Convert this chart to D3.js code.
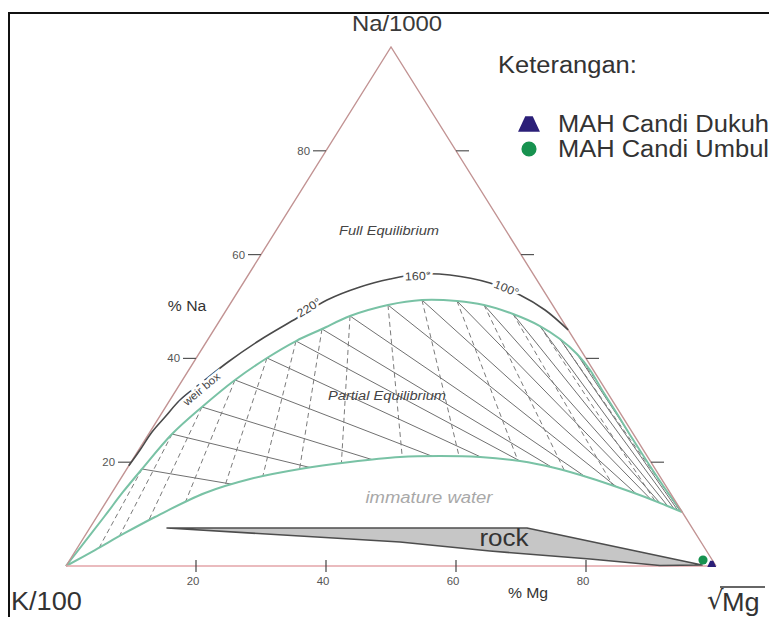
<!DOCTYPE html>
<html><head><meta charset="utf-8">
<script src="https://cdn.jsdelivr.net/npm/d3@7"></script>
<style>body{margin:0;background:#fff}svg{display:block;font-family:"Liberation Sans",Arial,sans-serif}</style>
</head><body>
<svg id="c" width="769" height="617"></svg>
<script>
// ---------- DATA (ternary: %Na , %Mg ; %K = 100 - Na - Mg) ----------
const fullEqNa = [0, 9.44, 14.26, 18.69, 25.43, 30.64, 35.84, 40.08, 43.35, 45.66, 48.17, 50.29, 51.25, 51.06, 50.29, 48.55, 46.24, 43.74, 40.85, 37.76, 33.91, 29.67, 24.66, 19.27, 14.64, 10.40];
const fullEqMg = [0, 1.13, 1.64, 2.35, 3.60, 5.60, 8.08, 10.88, 13.71, 16.55, 19.61, 24.39, 29.14, 34.62, 39.16, 44.50, 49.80, 54.13, 58.19, 61.74, 65.51, 69.78, 74.75, 80.21, 84.99, 89.57];

const immatureNa = [0, 3.08, 6.36, 9.44, 14.07, 16.76, 18.69, 20.04, 21.00, 21.19, 21.00, 20.23, 18.88, 16.96, 15.03, 13.29, 11.75, 10.40];
const immatureMg = [0, 2.92, 5.90, 8.97, 14.35, 19.93, 26.65, 33.67, 40.88, 46.94, 53.19, 59.73, 65.79, 72.14, 77.71, 82.43, 86.28, 89.57];

// isotherm tie points on the full-equilibrium line
const isoTemps = [340, 320, 300, 280, 260, 240, 220, 200, 180, 160, 140, 120, 100, 80, 60, 40];
const isoNa = [18.69, 25.43, 30.64, 35.84, 40.08, 43.35, 45.66, 48.17, 50.29, 51.25, 51.06, 50.29, 48.55, 46.24, 43.74, 40.85];
const isoMg = [2.35, 3.60, 5.60, 8.08, 10.88, 13.71, 16.55, 19.61, 24.39, 29.14, 34.62, 39.16, 44.50, 49.80, 54.13, 58.19];
const labelledTemps = [220, 160, 100];

// weir box temperature arc
const arcNa = [19.3, 22.35, 25.82, 28.71, 31.98, 35.07, 39.31, 43.55, 47.78, 51.25, 53.76, 55.30, 56.26, 56.07, 54.53, 52.22, 49.33, 45.5];
const arcMg = [0.0, 0.21, 0.32, 0.88, 1.55, 3.08, 5.27, 8.08, 11.65, 14.53, 18.35, 22.20, 26.33, 31.04, 37.96, 43.74, 49.03, 54.5];

// rock dissolution field
const rockNa = [7.32, 7.32, 0.19, 0.10, 1.35, 2.89, 4.62];
const rockMg = [11.88, 67.26, 97.75, 91.33, 79.94, 63.78, 49.07];

// samples
const sampleNames = ["MAH Candi Dukuh", "MAH Candi Umbul"];
const sampleNa = [0.39, 1.16];
const sampleMg = [99.15, 97.42];

const axisTicks = [20, 40, 60, 80];

// ---------- LAYOUT ----------
const svg = d3.select("#c");
const sx = d3.scaleLinear().domain([0, 100]).range([66, 716]);
const sy = d3.scaleLinear().domain([0, 100]).range([566, 47]);
const px = (na, mg) => [sx(mg + na / 2), sy(na)];
const STRETCH = 1.085;
const dashFocus = px(97.5, -2.75);   // convergence of K-Mg isotherms in the drawing

svg.append("rect").attr("width", 769).attr("height", 617).attr("fill", "#fff");
svg.append("rect").attr("x", 9).attr("y", 13).attr("width", 800).attr("height", 700)
  .attr("fill", "none").attr("stroke", "#111").attr("stroke-width", 2);

function txt(x, y, s, o = {}) {
  return svg.append("text")
    .attr("transform", `translate(${x},${y}) rotate(${o.rot || 0}) scale(${STRETCH},1)`)
    .attr("text-anchor", o.anchor || "start")
    .attr("font-size", o.size || 12)
    .attr("font-style", o.italic ? "italic" : "normal")
    .attr("fill", o.fill || "#333")
    .text(s);
}

const line = d3.line().curve(d3.curveCatmullRom.alpha(0.5));
const upPts = fullEqNa.map((na, i) => px(na, fullEqMg[i]));
const loPts = immatureNa.map((na, i) => px(na, immatureMg[i]));
const dUp = line(upPts), dLo = line(loPts);
const dLoRev = line(loPts.slice().reverse());

svg.append("clipPath").attr("id", "pe").append("path").attr("d", dUp + "L" + dLoRev.slice(1) + "Z");

// isotherms
const iso = svg.append("g").attr("clip-path", "url(#pe)");
const mgVertex = px(0, 100);
isoTemps.forEach((t, i) => {
  const [x, y] = px(isoNa[i], isoMg[i]);
  iso.append("line").attr("x1", x).attr("y1", y).attr("x2", mgVertex[0]).attr("y2", mgVertex[1])
    .attr("stroke", "#707070").attr("stroke-width", 1);
  const fx = x + 3 * (x - dashFocus[0]), fy = y + 3 * (y - dashFocus[1]);
  iso.append("line").attr("x1", x).attr("y1", y).attr("x2", fx).attr("y2", fy)
    .attr("stroke", "#7a7a7a").attr("stroke-width", 1).attr("stroke-dasharray", "5,3.5");
});

// curves
svg.append("path").attr("d", dLo).attr("fill", "none").attr("stroke", "#79c2a5").attr("stroke-width", 2);
svg.append("path").attr("d", dUp).attr("fill", "none").attr("stroke", "#79c2a5").attr("stroke-width", 2);

// triangle
const K = px(0, 0), N = px(100, 0), M = px(0, 100);
svg.append("path").attr("d", `M${K}L${N}L${M}`).attr("fill", "none").attr("stroke", "#c29393").attr("stroke-width", 1.4);
svg.append("path").attr("d", `M${K}L${M}`).attr("fill", "none").attr("stroke", "#e3a5a8").attr("stroke-width", 1.6);

// ticks
axisTicks.forEach(v => {
  const [lx, ly] = px(v, 0);
  svg.append("line").attr("x1", lx - 13).attr("x2", lx).attr("y1", ly).attr("y2", ly).attr("stroke", "#555").attr("stroke-width", 1.2);
  txt(lx - 16, ly + 4, String(v), { anchor: "end", size: 10.5, fill: "#555" });
  const [rx, ry] = px(v, 100 - v);
  svg.append("line").attr("x1", rx).attr("x2", rx + 13).attr("y1", ry).attr("y2", ry).attr("stroke", "#555").attr("stroke-width", 1.2);
  const [bx, by] = px(0, v);
  svg.append("line").attr("x1", bx).attr("x2", bx).attr("y1", by - 6).attr("y2", by + 6).attr("stroke", "#444").attr("stroke-width", 1.2);
  txt(bx - 3, by + 19, String(v), { anchor: "middle", size: 10.5, fill: "#555" });
});

// weir box arc
const arcPts = arcNa.map((na, i) => px(na, arcMg[i]));
svg.append("path").attr("d", line(arcPts)).attr("fill", "none").attr("stroke", "#4a4a4a").attr("stroke-width", 1.6);
function halo(t) { t.attr("stroke", "#fff").attr("stroke-width", 5).attr("paint-order", "stroke"); return t; }
const wb = px(34.3, 4.08);
halo(txt(wb[0], wb[1] + 4, "weir box", { anchor: "middle", size: 11, rot: -40, fill: "#444" }));
const tempPos = { 220: [49.9, 12.74, -32], 160: [55.88, 26.21, -2], 100: [53.56, 40.76, 22] };
labelledTemps.forEach(t => {
  const [na, mg, r] = tempPos[t];
  const [x, y] = px(na, mg);
  halo(txt(x, y + 4, t + "°", { anchor: "middle", size: 11.5, rot: r, fill: "#444" }));
});

// rock field
const rockPts = rockNa.map((na, i) => px(na, rockMg[i]));
svg.append("path").attr("d", d3.line().curve(d3.curveLinearClosed)(rockPts))
  .attr("fill", "#c6c6c6").attr("stroke", "#4d4d4d").attr("stroke-width", 1.6).attr("stroke-linejoin", "round");

// region labels
txt(389, 235, "Full Equilibrium", { anchor: "middle", size: 13.5, italic: true, fill: "#444" });
txt(387, 400, "Partial Equilibrium", { anchor: "middle", size: 13.5, italic: true, fill: "#444" });
txt(429, 503, "immature water", { anchor: "middle", size: 17, italic: true, fill: "#a8a8a8" });
txt(504, 546, "rock", { anchor: "middle", size: 24, fill: "#333" });

// axis titles
txt(397, 31, "Na/1000", { anchor: "middle", size: 22, fill: "#3a3a3a" });
txt(11, 610, "K/100", { size: 25, fill: "#333" });
txt(187, 311, "% Na", { anchor: "middle", size: 14.5, fill: "#333" });
txt(528, 598, "% Mg", { anchor: "middle", size: 14.5, fill: "#333" });
svg.append("text").attr("x", 707).attr("y", 609).attr("font-size", 26).attr("font-family", "DejaVu Sans").attr("fill", "#333").text("√");
svg.append("line").attr("x1", 720).attr("x2", 765).attr("y1", 587).attr("y2", 587).attr("stroke", "#333").attr("stroke-width", 1.5);
txt(722, 611, "Mg", { size: 25, fill: "#333" });

// samples
const trapezoid = { draw(ctx, size) { const s = Math.sqrt(size);
  ctx.moveTo(-0.17 * s, -0.35 * s); ctx.lineTo(0.17 * s, -0.35 * s); ctx.lineTo(0.5 * s, 0.35 * s); ctx.lineTo(-0.5 * s, 0.35 * s); ctx.closePath(); } };
const sampleSymbols = [trapezoid, d3.symbolCircle];
const sampleColors = ["#2b1f78", "#17924f"];
const plotSizes = [80, 66];
sampleNames.forEach((n, i) => {
  const [x, y] = px(sampleNa[i], sampleMg[i]);
  svg.append("path").attr("transform", `translate(${x},${y})`).attr("d", d3.symbol().type(sampleSymbols[i]).size(plotSizes[i])())
    .attr("fill", sampleColors[i]);
});

// legend
txt(498, 73, "Keterangan:", { size: 23.5, fill: "#333" });
const legY = [132, 157];
const legSizes = [480, 180];
sampleNames.forEach((n, i) => {
  svg.append("path").attr("transform", `translate(529,${legY[i] - 8})`).attr("d", d3.symbol().type(sampleSymbols[i]).size(legSizes[i])())
    .attr("fill", sampleColors[i]);
  txt(558, legY[i], n, { size: 23.5, fill: "#333" });
});
</script>
</body></html>
